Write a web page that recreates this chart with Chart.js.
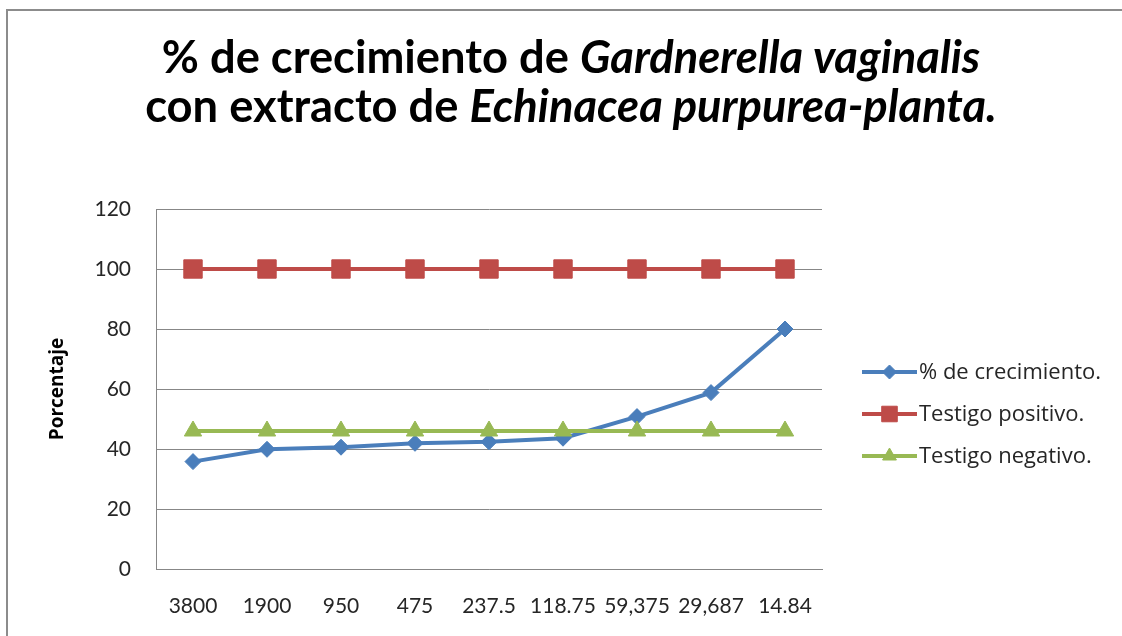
<!DOCTYPE html>
<html lang="es">
<head>
<meta charset="utf-8">
<title>% de crecimiento de Gardnerella vaginalis</title>
<script src="https://cdn.jsdelivr.net/npm/chart.js@4.4.1/dist/chart.umd.min.js"></script>
<style>
  html, body { margin: 0; padding: 0; background: #fff; }
  canvas { display: block; }
</style>
</head>
<body>
<canvas id="chart" width="1122" height="636"></canvas>
<script>
// concentrations (x axis) as printed on the original sheet
const categories = ['3800', '1900', '950', '475', '237.5', '118.75', '59,375', '29,687', '14.84'];

const crecimiento = [35.8, 39.9, 40.6, 41.9, 42.4, 43.6, 50.8, 58.8, 80.0];
const testigoPositivo = [100, 100, 100, 100, 100, 100, 100, 100, 100];
const testigoNegativo = [46, 46, 46, 46, 46, 46, 46, 46, 46];

const yTicks = [0, 20, 40, 60, 80, 100, 120];

const FONT = 'Lato, "Open Sans", sans-serif';
const WIDE_FONT = '"Open Sans", Lato, sans-serif';
const GRID = '#878787';
const TEXT = '#262626';

const series = [
  { label: '% de crecimiento.', data: crecimiento, color: '#4A7EBB', style: 'rectRot', radius: 8, legendRadius: 7 },
  { label: 'Testigo positivo.', data: testigoPositivo, color: '#BE4B48', style: 'rect', radius: 13, legendRadius: 11 },
  { label: 'Testigo negativo.', data: testigoNegativo, color: '#98B954', style: 'triangle', radius: 10, legendRadius: 8 }
];

const titleLines = [
  [{ text: '% de crecimiento de ', italic: false }, { text: 'Gardnerella vaginalis', italic: true }],
  [{ text: 'con extracto de ', italic: false }, { text: 'Echinacea purpurea-planta.', italic: true }]
];

function titleFont(part, size) {
  return (part.italic ? 'italic ' : '') + 'bold ' + size + 'px ' + FONT;
}

function lineWidth(ctx, parts, size) {
  return parts.reduce((sum, part) => {
    ctx.font = titleFont(part, size);
    return sum + ctx.measureText(part.text).width;
  }, 0);
}

function drawTitle(ctx) {
  // fit the first line to the width it has in the reference
  const size = Math.round(100 * 818 / lineWidth(ctx, titleLines[0], 100) * 10) / 10;
  const baselines = [73, 122];
  ctx.fillStyle = '#000';
  ctx.textBaseline = 'alphabetic';
  ctx.textAlign = 'left';
  titleLines.forEach((parts, i) => {
    let x = 571 - lineWidth(ctx, parts, size) / 2;
    parts.forEach((part) => {
      ctx.font = titleFont(part, size);
      ctx.fillText(part.text, x, baselines[i]);
      x += ctx.measureText(part.text).width;
    });
  });
}

function drawLegend(ctx) {
  const rows = [372, 414, 456];
  series.forEach((s, i) => {
    const y = rows[i];
    ctx.strokeStyle = s.color;
    ctx.fillStyle = s.color;
    ctx.lineWidth = 4;
    ctx.beginPath();
    ctx.moveTo(862, y);
    ctx.lineTo(917, y);
    ctx.stroke();
    ctx.lineWidth = 1;
    Chart.helpers.drawPoint(ctx, { pointStyle: s.style, radius: s.legendRadius, rotation: 0, borderWidth: 1 }, 889.5, y);
    ctx.fillStyle = TEXT;
    ctx.font = '22px ' + WIDE_FONT;
    ctx.textBaseline = 'middle';
    ctx.textAlign = 'left';
    ctx.fillText(s.label, 919, y + 1);
  });
}

const framePlugin = {
  id: 'frame',
  beforeDraw(chart) {
    const ctx = chart.ctx;
    ctx.save();
    ctx.fillStyle = '#fff';
    ctx.fillRect(0, 0, chart.width, chart.height);
    ctx.strokeStyle = '#8c8c8c';
    ctx.lineWidth = 2;
    ctx.beginPath();
    ctx.moveTo(7, chart.height);
    ctx.lineTo(7, 10);
    ctx.lineTo(chart.width, 10);
    ctx.stroke();
    ctx.restore();
  },
  afterDraw(chart) {
    const ctx = chart.ctx;
    ctx.save();
    drawTitle(ctx);
    drawLegend(ctx);
    ctx.restore();
  }
};

new Chart(document.getElementById('chart').getContext('2d'), {
  type: 'line',
  data: {
    labels: categories,
    datasets: series.map((s, i) => ({
      label: s.label,
      data: s.data,
      borderColor: s.color,
      backgroundColor: s.color,
      borderWidth: 4,
      pointStyle: s.style,
      pointRadius: s.radius,
      pointHoverRadius: s.radius,
      pointBorderWidth: 1,
      pointBorderColor: s.color,
      pointBackgroundColor: s.color,
      tension: 0,
      fill: false,
      order: series.length - 1 - i
    }))
  },
  options: {
    responsive: false,
    animation: false,
    events: [],
    layout: { padding: { top: 209, right: 300, bottom: 0, left: 0 } },
    plugins: {
      legend: { display: false },
      title: { display: false },
      tooltip: { enabled: false }
    },
    scales: {
      x: {
        offset: true,
        grid: { display: false, drawTicks: false },
        border: { display: true, color: GRID, width: 1 },
        ticks: {
          autoSkip: false,
          maxRotation: 0,
          minRotation: 0,
          padding: 25,
          color: TEXT,
          font: { family: FONT, size: 21 }
        },
        afterFit(scale) { scale.height = 67; }
      },
      y: {
        min: yTicks[0],
        max: yTicks[yTicks.length - 1],
        afterBuildTicks(scale) { scale.ticks = yTicks.map((v) => ({ value: v })); },
        grid: { color: GRID, lineWidth: 1, drawTicks: false },
        border: { display: true, color: GRID, width: 1 },
        ticks: {
          padding: 25,
          color: TEXT,
          font: { family: FONT, size: 21 }
        },
        title: {
          display: true,
          text: 'Porcentaje',
          color: '#000',
          font: { family: WIDE_FONT, size: 19, weight: 'bold' },
          padding: { top: 46, bottom: 0 }
        },
        afterFit(scale) { scale.width = 156; }
      }
    }
  },
  plugins: [framePlugin]
});
</script>
</body>
</html>
